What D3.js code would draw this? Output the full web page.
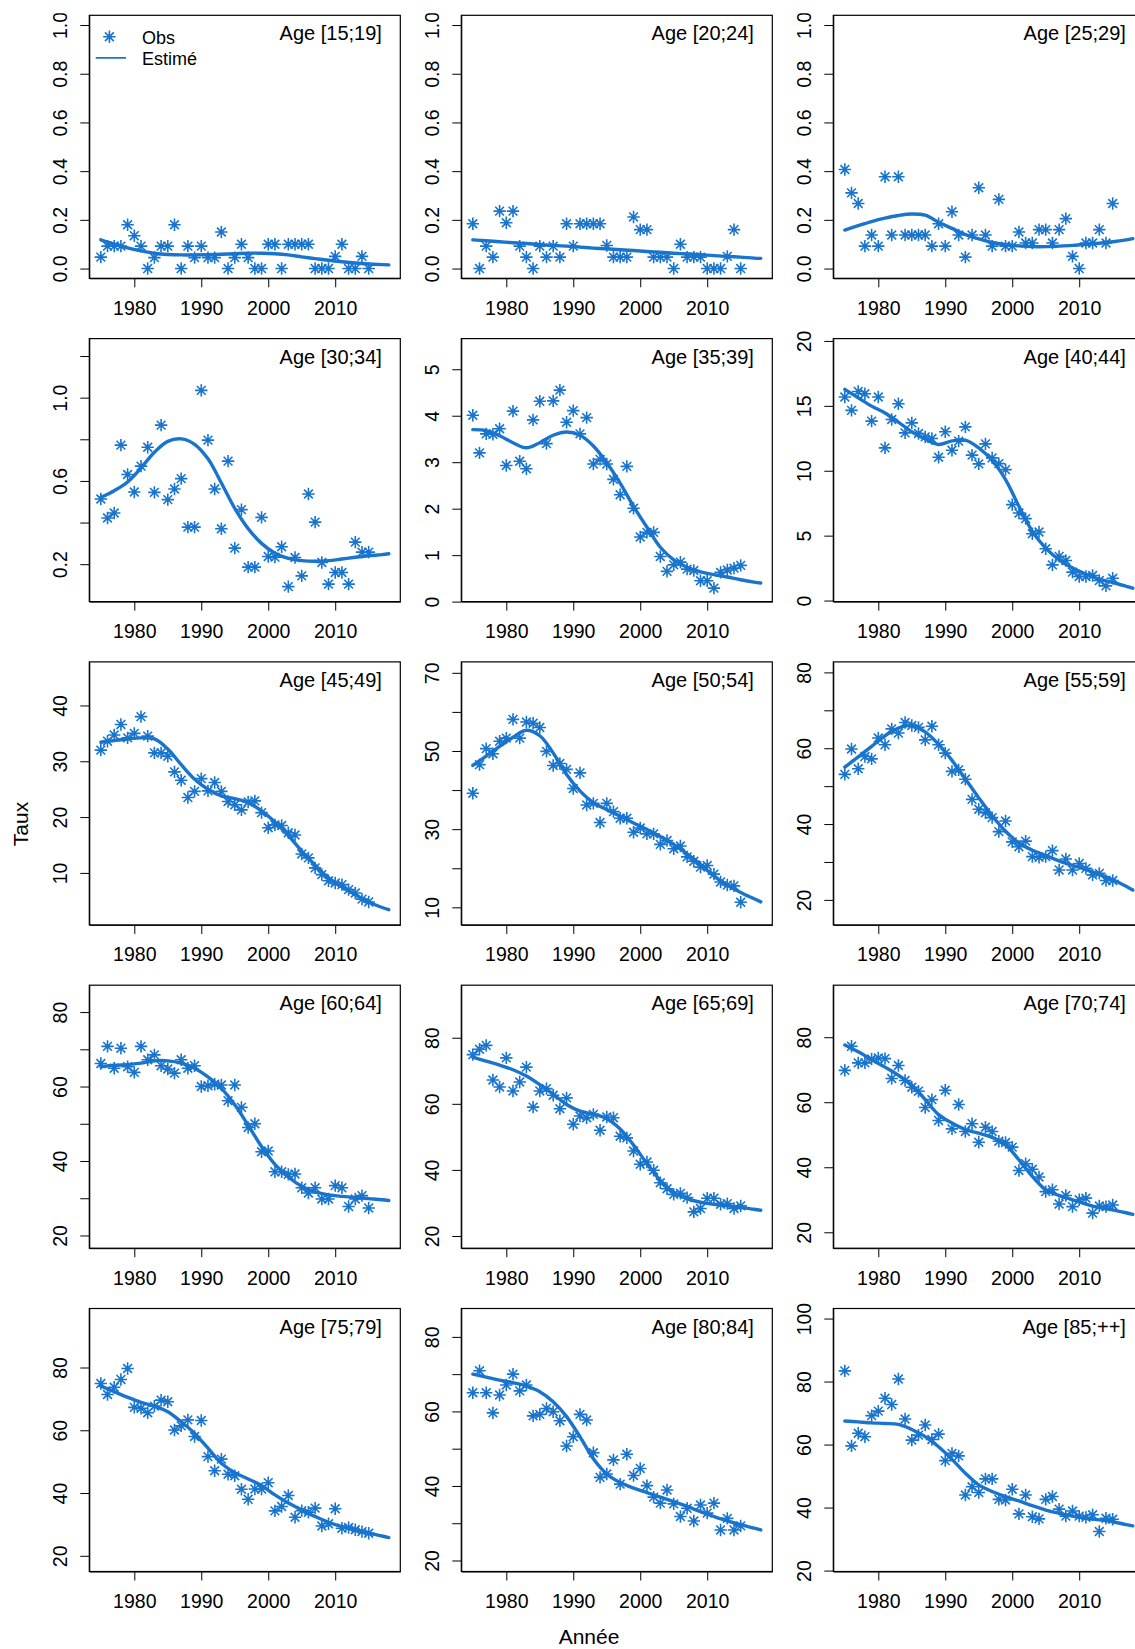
<!DOCTYPE html>
<html><head><meta charset="utf-8">
<script src="https://cdn.jsdelivr.net/npm/d3@7"></script>
<style>html,body{margin:0;padding:0;background:#fff;} svg{display:block;font-family:"Liberation Sans",Arial,Helvetica,sans-serif;}</style>
</head><body><div id="chart"></div>
<script>
// ---------------- DATA ----------------
const ageLabels = ["Age [15;19]","Age [20;24]","Age [25;29]","Age [30;34]","Age [35;39]","Age [40;44]",
  "Age [45;49]","Age [50;54]","Age [55;59]","Age [60;64]","Age [65;69]","Age [70;74]",
  "Age [75;79]","Age [80;84]","Age [85;++]"];
const legendLabels = ["Obs", "Estimé"];
const xTitle = "Année";
const yTitle = "Taux";

const obsYears = [1975,1976,1977,1978,1979,1980,1981,1982,1983,1984,1985,1986,1987,1988,1989,1990,1991,1992,1993,1994,
  1995,1996,1997,1998,1999,2000,2001,2002,2003,2004,2005,2006,2007,2008,2009,2010,2011,2012,2013,2014,2015];
const estYears = [1975,1977,1979,1981,1983,1985,1987,1989,1991,1993,1995,1997,1999,2001,2003,2005,2007,2009,2011,2013,2015,2017,2018];

const obs_15_19 = [0.047,0.092,0.092,0.092,0.18,0.135,0.092,0,0.045,0.092, 0.092,0.18,0,0.092,0.045,0.092,0.045,0.045,0.15,0,
  0.045,0.10,0.045,0,0,0.10,0.10,0,0.10,0.10, 0.10,0.10,0,0,0,0.05,0.10,0,0,0.05,0];
const obs_20_24 = [0.184,0,0.092,0.047,0.236,0.188,0.236,0.092,0.047,0, 0.092,0.047,0.092,0.047,0.184,0.092,0.184,0.184,0.184,0.184,
  0.095,0.047,0.047,0.047,0.212,0.16,0.16,0.047,0.047,0.047, 0,0.10,0.047,0.047,0.047,0,0,0,0.05,0.16,0];
const obs_25_29 = [0.407,0.311,0.267,0.092,0.138,0.092,0.377,0.138,0.377,0.138, 0.138,0.138,0.138,0.092,0.184,0.092,0.233,0.138,0.047,0.138,
  0.332,0.138,0.092,0.284,0.092,0.092,0.15,0.105,0.105,0.16, 0.16,0.105,0.16,0.205,0.05,0,0.105,0.105,0.16,0.105,0.267];
const obs_30_34 = [0.513,0.422,0.446,0.772,0.631,0.547,0.671,0.762,0.545,0.868, 0.510,0.561,0.611,0.378,0.378,1.035,0.796,0.561,0.370,0.695,
  0.277,0.462,0.186,0.186,0.425,0.237,0.234,0.284,0.092,0.232, 0.144,0.537,0.402,0.208,0.104,0.160,0.160,0.104,0.306,0.258,0.258];
const obs_35_39 = [4.01,3.20,3.61,3.60,3.72,2.93,4.10,3.02,2.86,3.91, 4.31,3.40,4.32,4.55,3.86,4.11,3.61,3.96,2.96,3.06,
  2.96,2.63,2.30,2.91,2.01,1.39,1.49,1.49,0.97,0.65, 0.79,0.85,0.70,0.67,0.45,0.45,0.29,0.63,0.68,0.72,0.78];
const obs_40_44 = [15.68,14.65,16.11,15.93,13.82,15.68,11.76,13.95,15.16,12.92, 13.69,12.87,12.61,12.48,11.04,13.0,11.58,12.28,13.38,11.20,
  10.53,12.07,10.99,10.55,10.09,7.39,6.74,6.31,5.15,5.28, 3.99,2.75,3.40,3.09,2.19,1.85,1.85,1.93,1.54,1.13,1.72];
const obs_45_49 = [32.0,33.6,34.7,36.6,34.2,35.0,38.0,34.5,31.5,31.5, 30.9,28.1,26.6,23.5,24.6,26.9,24.7,26.2,24.6,22.8,
  22.2,21.3,22.7,22.9,20.8,18.1,18.6,18.5,17.2,16.8, 13.4,12.7,10.9,9.7,8.6,8.2,7.9,7.0,6.4,5.3,4.8];
const obs_50_54 = [39.2,46.5,50.6,49.3,52.5,53.3,58.1,53.3,57.4,57.1, 56.0,49.9,46.3,46.8,45.3,40.4,44.4,36.2,36.6,31.7,
  36.6,34.5,32.8,32.8,29.2,30.3,28.8,28.8,26.1,27.1, 25.0,25.7,22.9,21.8,20.3,20.7,18.5,16.5,15.7,15.5,11.3];
const obs_55_59 = [53.1,59.8,54.6,57.8,57.2,62.7,60.9,65.1,64.0,66.8, 66.0,65.5,62.2,65.8,60.9,58.7,53.9,54.3,51.8,46.5,
  43.9,43.0,41.7,38.0,40.8,35.3,34.0,35.5,31.4,31.2, 31.4,33.0,27.9,30.8,27.9,29.6,28.3,26.6,27.0,25.1,25.1];
const obs_60_64 = [66.2,70.8,64.9,70.3,65.3,63.8,70.8,67.2,68.5,65.6, 64.7,63.6,67.2,64.9,65.6,60.0,60.2,60.6,60.4,56.2,
  60.4,54.4,49.0,50.0,42.5,42.7,37.1,37.1,36.4,36.5, 32.8,31.4,32.8,29.8,29.8,33.4,32.8,27.8,29.8,30.7,27.4];
const obs_65_69 = [74.9,76.5,77.7,67.2,65.1,73.9,63.9,66.6,71.1,59.0, 63.9,64.6,62.6,58.5,61.8,53.8,56.3,55.8,56.8,52.0,
  56.0,55.8,50.2,49.7,45.7,41.7,42.4,39.9,36.1,34.3, 32.6,32.9,31.6,27.3,28.3,31.4,31.4,29.6,29.8,28.3,29.1];
const obs_70_74 = [69.8,77.2,72.1,72.1,73.3,73.6,73.4,67.3,71.3,66.7, 64.6,63.4,58.4,60.8,54.4,63.7,51.8,59.3,51.0,53.4,
  47.7,52.3,51.0,48.0,47.6,46.2,39.0,41.1,39.4,37.0, 32.5,33.1,28.7,31.3,27.9,30.0,30.5,25.9,28.1,27.9,28.4];
const obs_75_79 = [74.9,71.4,73.7,76.2,79.7,67.3,67.0,65.6,67.7,69.6, 69.1,60.1,61.4,63.3,58.0,63.1,51.6,47.1,50.8,46.0,
  45.5,41.2,38.0,41.3,41.3,43.3,34.3,35.7,39.2,32.3, 34.4,33.9,35.2,29.5,30.2,35.0,28.8,29.0,28.3,27.7,27.2];
const obs_80_84 = [65.0,70.9,65.0,59.6,64.4,67.1,70.0,65.5,67.1,58.8, 59.2,60.8,59.9,57.5,50.7,53.2,59.2,57.7,48.9,42.3,
  43.2,47.0,40.5,48.5,42.8,44.7,40.1,37.0,35.4,38.9, 35.2,31.8,34.0,30.6,34.9,32.7,35.4,28.2,31.3,28.2,29.3];
const obs_85_pp = [83.4,59.6,63.6,62.5,69.2,70.6,74.7,72.7,80.8,68.1, 61.4,63.0,66.2,61.6,63.3,54.9,57.2,56.4,44.0,46.6,
  44.8,49.1,49.1,42.6,42.4,45.8,38.0,44.0,37.1,36.4, 42.6,43.5,39.5,37.3,38.9,37.3,36.9,37.7,32.4,36.6,36.3];

const est_15_19 = [.118,.100,.085,.073,.063,.058,.056,.056,.057,.059,.061,.063,.063,.061,.056,.048,.041,.034,.028,.023,.019,.016,.015];
const est_20_24 = [.118,.114,.110,.106,.103,.099,.095,.092,.088,.084,.081,.077,.074,.070,.067,.063,.060,.057,.053,.050,.047,.043,.042];
const est_25_29 = [.158,.176,.193,.207,.218,.224,.219,.190,.165,.140,.122,.107,.098,.093,.090,.090,.092,.095,.100,.104,.110,.118,.123];
const est_30_34 = [.521,.553,.595,.662,.738,.790,.802,.776,.706,.590,.468,.371,.300,.253,.228,.217,.214,.217,.225,.233,.240,.246,.250];
const est_35_39 = [3.70,3.68,3.57,3.42,3.31,3.42,3.58,3.65,3.58,3.35,2.99,2.55,2.05,1.60,1.17,0.90,0.74,0.64,0.58,0.53,0.47,0.42,0.40];
const est_40_44 = [16.27,15.62,14.98,14.45,13.75,13.0,12.45,12.02,12.3,12.36,11.76,10.79,9.32,7.26,5.33,4.04,3.14,2.50,2.03,1.65,1.39,1.10,0.95];
const est_45_49 = [33.4,33.7,34.0,34.2,34.0,32.2,29.4,26.8,25.0,23.8,23.3,22.6,21.1,19.1,16.7,13.9,11.4,9.1,7.5,6.1,4.8,3.8,3.4];
const est_50_54 = [46.3,48.7,51.2,53.5,55.3,53.9,49.5,44.0,39.8,36.8,35.0,33.3,31.6,29.9,28.1,26.1,23.7,21.0,18.0,15.7,13.8,12.2,11.4];
const est_55_59 = [55.0,57.7,60.5,63.3,65.3,66.0,64.3,61.0,56.8,51.9,46.9,42.2,38.1,35.0,33.1,31.7,30.3,29.1,28.0,26.7,25.3,23.6,22.6];
const est_60_64 = [65.3,65.7,65.9,66.3,66.9,66.9,66.3,64.9,62.6,59.5,55.1,49.6,43.9,39.1,35.7,33.2,31.7,30.9,30.5,30.2,29.9,29.6,29.4];
const est_65_69 = [74.1,72.9,71.7,70.3,68.4,65.8,62.9,59.8,57.8,56.9,55.5,52.4,47.5,41.9,36.8,33.2,31.3,30.2,29.6,29.1,28.6,28.1,27.8];
const est_70_74 = [77.6,75.5,73.1,70.8,68.3,65.2,60.8,56.2,53.6,51.6,50.5,49.2,46.9,42.3,37.2,33.1,31.3,30.0,28.7,27.6,26.9,26.0,25.5];
const est_75_79 = [74.1,72.3,70.5,68.9,67.7,65.9,62.7,59.0,54.3,49.5,46.5,44.5,42.4,39.4,36.8,34.6,32.5,30.7,29.3,28.3,27.2,26.3,25.8];
const est_80_84 = [70.0,69.2,68.4,67.7,66.8,65.3,62.6,58.6,53.2,47.3,43.2,40.9,39.4,38.2,37.0,35.8,34.5,33.1,31.8,30.6,29.6,28.7,28.2];
const est_85_pp = [67.5,67.2,66.9,66.7,66.4,64.8,62.5,59.3,55.3,50.9,47.2,45.1,43.5,42.1,40.6,39.2,38.2,37.3,36.6,36.1,35.5,34.6,34.2];

// y-axis limits (before the usual 4% expansion)
const yLims = [[0,1],[0,1],[0,1],[0.067,1.237],[0.21,5.45],[0.67,19.43],[2.43,46.06],[8.0,70.3],
  [15.97,80.2],[19.2,84.6],[19.25,92.95],[18.1,93.0],[18.1,95.7],[19.66,85.0],[22.8,100.1]];
const yTicks = [
  [0,0.2,0.4,0.6,0.8,1],[0,0.2,0.4,0.6,0.8,1],[0,0.2,0.4,0.6,0.8,1],
  [0.2,0.4,0.6,0.8,1.0,1.2],[0,1,2,3,4,5],[0,5,10,15,20],
  [10,20,30,40],[10,20,30,40,50,60,70],[20,30,40,50,60,70,80],
  [20,30,40,50,60,70,80],[20,40,60,80],[20,40,60,80],
  [20,40,60,80],[20,30,40,50,60,70,80],[20,40,60,80,100]];
const yTickLabels = [
  ["0.0","0.2","0.4","0.6","0.8","1.0"],["0.0","0.2","0.4","0.6","0.8","1.0"],["0.0","0.2","0.4","0.6","0.8","1.0"],
  ["0.2","","0.6","","1.0",""],["0","1","2","3","4","5"],["0","5","10","15","20"],
  ["10","20","30","40"],["10","","30","","50","","70"],["20","","40","","60","","80"],
  ["20","","40","","60","","80"],["20","40","60","80"],["20","40","60","80"],
  ["20","40","60","80"],["20","","40","","60","","80"],["20","40","60","80","100"]];
const xTicks = [1980,1990,2000,2010];
const xTickLabels = ["1980","1990","2000","2010"];

const obsSeries = [obs_15_19,obs_20_24,obs_25_29,obs_30_34,obs_35_39,obs_40_44,obs_45_49,obs_50_54,
  obs_55_59,obs_60_64,obs_65_69,obs_70_74,obs_75_79,obs_80_84,obs_85_pp];
const estSeries = [est_15_19,est_20_24,est_25_29,est_30_34,est_35_39,est_40_44,est_45_49,est_50_54,
  est_55_59,est_60_64,est_65_69,est_70_74,est_75_79,est_80_84,est_85_pp];

// ---------------- LAYOUT / STYLE ----------------
const W = 1135, H = 1649;
const col0 = 89.3, colStep = 372, boxW = 311;
const row0 = 15.3, rowStep = 323.3, boxH = 263;
const deviceTop = 13.3;  // upper edge of the drawable area (labels above it are cut)
const blue = "#1874CD";
const tickFont = 19.5, ageFont = 20, legFont = 18, titleFont = 21;
const starPath = (r) => { const d = r / Math.SQRT2;
  return `M${-r},0H${r}M0,${-r}V${r}M${-d},${-d}L${d},${d}M${-d},${d}L${d},${-d}`; };
const STAR = starPath(6.2);

const svg = d3.select("#chart").append("svg").attr("width", W).attr("height", H)
  .style("background", "#fff");
const defs = svg.append("defs");
defs.append("clipPath").attr("id", "devclip").append("rect")
  .attr("x", 0).attr("y", deviceTop).attr("width", W).attr("height", H - deviceTop);

const xExt = d3.extent(estYears);
const xPad = 0.04 * (xExt[1] - xExt[0]);
const xDom = [xExt[0] - xPad, xExt[1] + xPad];

const root = svg.append("g").attr("clip-path", "url(#devclip)");

ageLabels.forEach((lab, i) => {
  const r = Math.floor(i / 3), c = i % 3;
  const left = col0 + c * colStep, top = row0 + r * rowStep;
  const x = d3.scaleLinear().domain(xDom).range([left, left + boxW]);
  const yl = yLims[i], d = yl[1] - yl[0];
  const y = d3.scaleLinear().domain([yl[0] - 0.04 * d, yl[1] + 0.04 * d]).range([top + boxH, top]);

  defs.append("clipPath").attr("id", "pc" + i).append("rect")
    .attr("x", left).attr("y", top).attr("width", boxW).attr("height", boxH);

  const g = root.append("g");
  const plot = g.append("g").attr("clip-path", `url(#pc${i})`);

  const line = d3.line().x(dd => x(dd[0])).y(dd => y(dd[1])).curve(d3.curveCatmullRom.alpha(0.5));
  plot.append("path").datum(estYears.map((yr, k) => [yr, estSeries[i][k]]))
    .attr("d", line).attr("fill", "none").attr("stroke", blue)
    .attr("stroke-width", 3.4).attr("stroke-linecap", "round").attr("stroke-linejoin", "round");

  plot.selectAll("path.star").data(obsYears.map((yr, k) => [yr, obsSeries[i][k]]))
    .join("path").attr("class", "star").attr("d", STAR)
    .attr("transform", dd => `translate(${x(dd[0])},${y(dd[1])})`)
    .attr("fill", "none").attr("stroke", blue).attr("stroke-width", 1.6);

  // axes
  const xa = g.append("g").attr("transform", `translate(0,${top + boxH})`)
    .call(d3.axisBottom(x).tickValues(xTicks).tickSize(9).tickSizeOuter(0)
      .tickFormat((v, k) => xTickLabels[k]));
  xa.selectAll("text").attr("y", 36.6).attr("dy", null)
    .attr("font-size", tickFont).attr("fill", "#000");
  xa.attr("font-family", null).attr("font-size", null);

  const ya = g.append("g").attr("transform", `translate(${left},0)`)
    .call(d3.axisLeft(y).tickValues(yTicks[i]).tickSize(9).tickSizeOuter(0)
      .tickFormat((v, k) => yTickLabels[i][k]));
  ya.selectAll("text").attr("x", null).attr("dy", null).attr("text-anchor", "middle")
    .attr("transform", "translate(-22.6,0) rotate(-90)")
    .attr("font-size", tickFont).attr("fill", "#000");
  ya.attr("font-family", null).attr("font-size", null);
  g.selectAll(".domain, .tick line").attr("stroke", "#000").attr("stroke-width", 1);

  // box
  g.append("rect").attr("x", left).attr("y", top).attr("width", boxW).attr("height", boxH)
    .attr("fill", "none").attr("stroke", "#000").attr("stroke-width", 1.2);

  // age label
  g.append("text").attr("x", left + boxW - 18.4).attr("y", top + 25)
    .attr("text-anchor", "end").attr("font-size", ageFont).attr("fill", "#000").text(lab);

  // legend in first panel
  if (i === 0) {
    g.append("path").attr("d", STAR).attr("transform", `translate(${left + 20.1},${top + 21.5})`)
      .attr("fill", "none").attr("stroke", blue).attr("stroke-width", 1.6);
    g.append("line").attr("x1", left + 6.4).attr("x2", left + 36.7)
      .attr("y1", top + 42.6).attr("y2", top + 42.6)
      .attr("stroke", blue).attr("stroke-width", 1.6);
    g.append("text").attr("x", left + 52.7).attr("y", top + 28.4)
      .attr("font-size", legFont).attr("fill", "#000").text(legendLabels[0]);
    g.append("text").attr("x", left + 52.7).attr("y", top + 50.1)
      .attr("font-size", legFont).attr("fill", "#000").text(legendLabels[1]);
  }
});

svg.append("text").attr("transform", "translate(27.5,824) rotate(-90)")
  .attr("text-anchor", "middle").attr("font-size", titleFont).attr("fill", "#000").text(yTitle);
svg.append("text").attr("x", 589).attr("y", 1644)
  .attr("text-anchor", "middle").attr("font-size", titleFont).attr("fill", "#000").text(xTitle);
</script>
</body></html>
